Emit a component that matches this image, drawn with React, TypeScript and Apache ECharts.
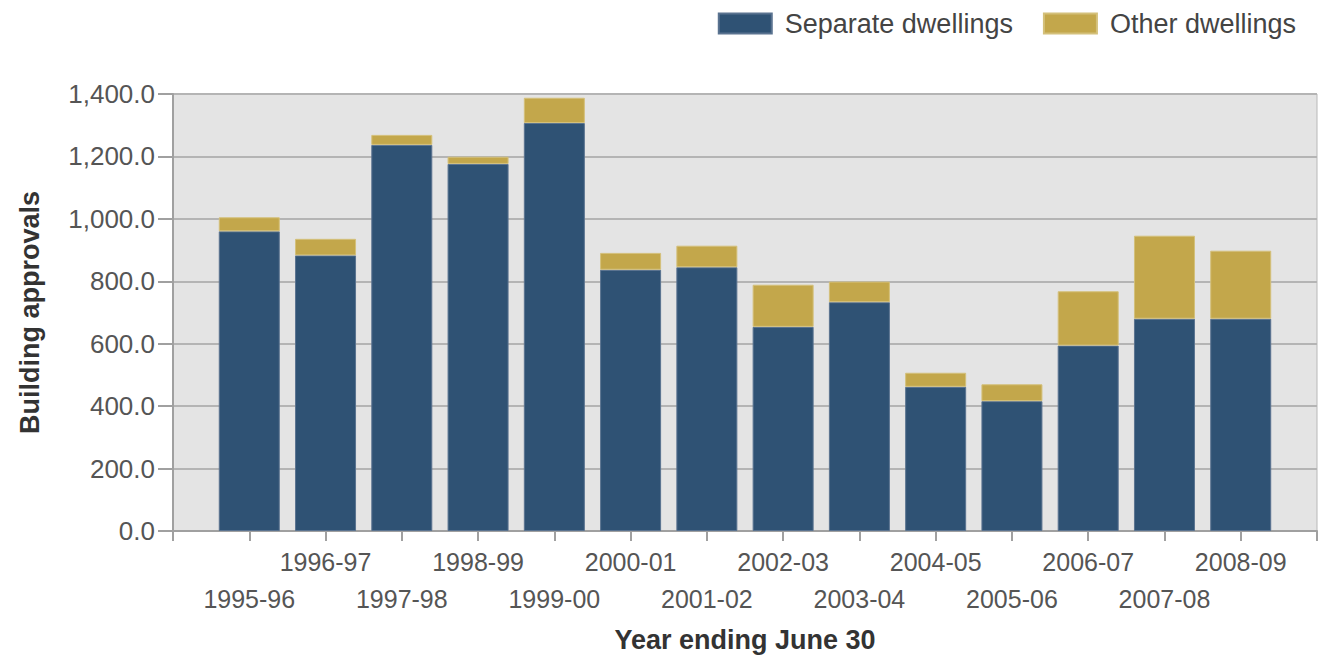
import React, { useEffect, useRef } from "react";
import * as echarts from "echarts";

const categories = [
  "1995-96", "1996-97", "1997-98", "1998-99", "1999-00", "2000-01", "2001-02",
  "2002-03", "2003-04", "2004-05", "2005-06", "2006-07", "2007-08", "2008-09",
];
const separateDwellings = [960, 883, 1237, 1176, 1307, 837, 845, 654, 733, 462, 416, 594, 680, 680];
const otherDwellings = [45, 53, 32, 23, 81, 54, 69, 135, 66, 45, 54, 174, 266, 218];
const yTicks = { min: 0, max: 1400, interval: 200 };

const FONT = "'Liberation Sans', Arial, sans-serif";

export default function App() {
  const ref = useRef<HTMLDivElement>(null);
  useEffect(() => {
    if (!ref.current) return;
    const chart = echarts.init(ref.current, undefined, { renderer: "svg" });
    // padded category list: empty slot at each end so bars sit on ticks
    const axisCats = ["", ...categories, ""];
    const pad = (arr: number[]) => ["-", ...arr, "-"];
    chart.setOption({
      animation: false,
      backgroundColor: "#ffffff",
      textStyle: { fontFamily: FONT },
      legend: {
        right: 19,
        top: 5,
        itemWidth: 53,
        itemHeight: 20,
        itemGap: 30,
        icon: "rect",
        textStyle: { fontSize: 27, color: "#444", fontFamily: FONT, padding: [0, 0, 0, 8] },
        data: ["Separate dwellings", "Other dwellings"],
      },
      grid: {
        left: 173,
        right: 0,
        top: 94,
        bottom: 126,
        show: true,
        backgroundColor: "#e4e4e4",
        borderColor: "#b8b8b8",
        borderWidth: 1,
      },
      xAxis: {
        type: "category",
        data: axisCats,
        boundaryGap: false,
        name: "Year ending June 30",
        nameLocation: "middle",
        nameGap: 95,
        nameTextStyle: { fontSize: 27, fontWeight: "bold", color: "#333", fontFamily: FONT },
        axisLine: { lineStyle: { color: "#a0a0a0", width: 2 } },
        axisTick: { show: true, length: 10, interval: 0, lineStyle: { color: "#a0a0a0", width: 2 } },
        axisLabel: {
          interval: 0,
          hideOverlap: false,
          margin: 12,
          fontSize: 25,
          lineHeight: 37,
          color: "#555",
          fontFamily: FONT,
          formatter: (v: string, i: number) => {
            if (!v) return "";
            return i % 2 === 1 ? "\n" + v : v + "\n ";
          },
        },
        splitLine: { show: false },
      },
      yAxis: {
        type: "value",
        min: yTicks.min,
        max: yTicks.max,
        interval: yTicks.interval,
        name: "Building approvals",
        nameLocation: "middle",
        nameGap: 130,
        nameTextStyle: { fontSize: 27, fontWeight: "bold", color: "#333", fontFamily: FONT },
        axisLine: { show: true, lineStyle: { color: "#a0a0a0", width: 2 } },
        axisTick: { show: true, length: 15, lineStyle: { color: "#a0a0a0", width: 2 } },
        axisLabel: {
          margin: 18,
          fontSize: 26,
          color: "#555",
          fontFamily: FONT,
          formatter: (v: number) =>
            v.toLocaleString("en-US", { minimumFractionDigits: 1, maximumFractionDigits: 1 }),
        },
        splitLine: { show: true, lineStyle: { color: "#b4b4b4", width: 2 } },
      },
      series: [
        {
          name: "Separate dwellings",
          type: "bar",
          stack: "total",
          barWidth: 61,
          data: pad(separateDwellings),
          itemStyle: { color: "#2f5274", borderColor: "#5a7390", borderWidth: 1 },
        },
        {
          name: "Other dwellings",
          type: "bar",
          stack: "total",
          barWidth: 61,
          data: pad(otherDwellings),
          itemStyle: { color: "#c3a74b", borderColor: "#d4c07a", borderWidth: 1 },
        },
      ],
    });
    return () => chart.dispose();
  }, []);
  return (
    <div
      ref={ref}
      style={{ position: "fixed", left: 0, top: 0, width: 1320, height: 658 }}
    />
  );
}
